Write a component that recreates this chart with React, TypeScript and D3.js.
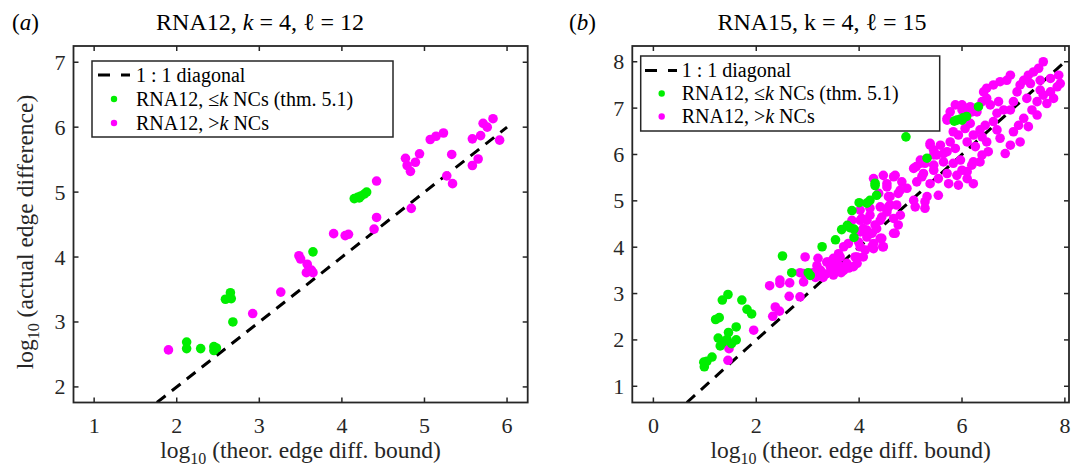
import React from "react";
import * as d3 from "d3";

// ---------- data ----------
const leftMagenta: [number, number][] = [
  [1.90, 2.57], [2.92, 3.13], [3.26, 3.46], [3.48, 4.02], [3.50, 3.97], [3.58, 3.89], [3.57, 3.76],
  [3.63, 3.80], [3.65, 3.76], [3.90, 4.36], [4.04, 4.33], [4.08, 4.35], [4.39, 4.43], [4.42, 4.61],
  [4.84, 4.75], [4.42, 5.17], [4.77, 5.52], [4.79, 5.41], [4.89, 5.46], [4.83, 5.32], [4.94, 5.59],
  [5.07, 5.81], [5.14, 5.86], [5.23, 5.91], [5.33, 5.58], [5.27, 5.25], [5.34, 5.13], [5.58, 5.82],
  [5.68, 5.87], [5.71, 6.06], [5.76, 6.00], [5.83, 6.13], [5.91, 5.80], [5.65, 5.51], [5.58, 5.41],
];
const leftGreen: [number, number][] = [
  [2.12, 2.69], [2.12, 2.59], [2.29, 2.59], [2.45, 2.62], [2.48, 2.60], [2.45, 2.56], [2.59, 3.35],
  [2.65, 3.45], [2.66, 3.36], [2.68, 3.00], [3.65, 4.08], [4.15, 4.90], [4.19, 4.92], [4.23, 4.94],
  [4.27, 4.97], [4.30, 5.00], [4.21, 4.91],
];
const rightGreen: [number, number][] = [
  [0.99, 1.42], [0.98, 1.52], [1.04, 1.54], [1.14, 1.63], [1.21, 2.44], [1.28, 2.48], [1.34, 2.86],
  [1.45, 2.98], [1.72, 2.86], [1.82, 2.66], [1.91, 2.56], [1.61, 2.28], [1.46, 2.16], [1.26, 2.04],
  [1.43, 2.01], [1.61, 2.00], [1.30, 1.87], [1.52, 1.92], [1.35, 1.95], [2.51, 3.81], [2.69, 3.45],
  [3.01, 3.45], [3.05, 3.39], [3.28, 4.01], [3.54, 4.16], [3.66, 4.38], [3.77, 4.47], [3.82, 4.42],
  [3.90, 4.39], [3.90, 4.21], [3.86, 4.79], [4.00, 4.96], [4.15, 4.95], [4.21, 5.01], [4.34, 5.12],
  [4.31, 5.33], [4.31, 5.38], [4.91, 6.38], [5.32, 5.92], [5.85, 6.72], [5.90, 6.74], [5.96, 6.76],
  [6.02, 6.79], [6.09, 6.82], [6.00, 6.74], [6.32, 7.03],
];
const rightMagenta: [number, number][] = [
  [1.45, 1.56], [1.47, 1.81], [1.95, 2.21], [2.32, 2.51], [2.37, 2.71], [2.45, 2.62], [2.26, 3.17],
  [2.46, 3.22], [2.65, 3.23], [2.64, 2.94], [2.85, 2.93], [2.92, 3.25], [2.85, 3.45], [2.92, 3.43],
  [2.95, 3.79], [3.20, 3.76], [3.18, 3.60], [3.24, 3.40], [3.37, 3.68], [3.44, 3.58], [3.57, 3.72],
  [3.63, 3.58], [3.70, 3.50], [3.60, 3.86], [3.70, 4.01], [3.79, 4.08], [3.89, 3.58], [3.92, 3.79],
  [4.08, 3.79], [4.02, 4.01], [4.15, 4.22], [4.28, 4.08], [4.25, 4.30], [4.28, 3.97], [4.44, 4.19],
  [4.47, 4.01], [4.67, 4.30], [4.76, 4.48], [4.80, 4.69], [4.67, 4.62], [4.54, 4.76], [4.41, 4.58],
  [4.34, 4.40], [4.15, 4.58], [4.08, 4.40], [4.21, 4.84], [4.41, 4.87], [4.60, 4.91], [5.09, 4.87],
  [5.28, 4.98], [4.02, 4.80], [4.05, 4.62], [3.40, 3.68], [3.96, 3.79], [4.25, 4.01], [4.46, 4.01],
  [4.41, 4.19], [4.70, 4.30], [4.31, 4.48], [4.21, 4.69], [4.02, 4.58], [4.44, 4.65], [4.57, 4.87],
  [4.73, 4.91], [4.57, 5.09], [4.76, 5.16], [5.28, 4.84], [5.32, 5.09], [5.54, 5.12], [5.06, 5.01],
  [4.93, 5.27], [4.83, 5.41], [4.47, 5.55], [4.70, 5.55], [4.28, 5.48], [4.54, 5.37], [5.06, 5.70],
  [5.22, 5.52], [5.12, 5.41], [5.38, 5.37], [5.45, 5.66], [5.54, 5.48], [5.74, 5.37], [5.93, 5.34],
  [5.71, 5.59], [5.90, 5.55], [6.10, 5.63], [6.22, 5.84], [5.97, 5.88], [6.22, 5.37], [5.83, 5.81],
  [5.64, 6.02], [5.45, 5.99], [5.28, 5.81], [5.11, 5.74], [3.86, 4.58], [4.02, 4.33], [4.15, 4.37],
  [3.99, 4.11], [4.12, 3.94], [3.63, 3.79], [3.76, 3.65], [3.96, 3.65], [3.50, 3.58], [3.50, 3.76],
  [2.46, 3.29], [4.67, 5.52], [4.54, 5.30], [4.80, 5.23], [4.38, 5.16], [4.60, 5.09], [5.19, 5.88],
  [5.38, 6.24], [5.45, 6.09], [3.10, 3.45], [3.25, 3.50], [3.35, 3.42], [3.45, 3.47], [3.55, 3.52],
  [3.65, 3.45], [3.80, 3.55], [3.30, 3.35], [3.50, 3.40], [3.15, 3.35],
  [7.46, 6.85], [7.58, 8.00], [7.49, 7.86], [7.39, 7.78], [7.29, 7.71], [7.20, 7.60], [7.13, 7.50],
  [7.33, 7.53], [7.52, 7.60], [7.72, 7.64], [7.88, 7.71], [7.85, 7.46], [7.72, 7.35], [7.52, 7.39],
  [7.46, 7.14], [7.26, 7.21], [7.07, 7.35], [7.00, 7.14], [6.94, 6.96], [6.87, 7.60], [6.74, 7.57],
  [6.61, 7.50], [6.48, 7.43], [6.94, 7.71], [6.42, 7.35], [6.48, 7.21], [6.55, 7.07], [6.71, 7.14],
  [6.81, 6.96], [6.68, 6.89], [6.61, 6.71], [6.45, 6.63], [6.35, 6.53], [6.16, 6.67], [6.19, 6.92],
  [6.00, 6.96], [6.06, 6.56], [6.22, 6.42], [6.48, 6.27], [6.68, 6.53], [6.51, 6.06], [6.39, 5.99],
  [6.26, 6.17], [6.10, 6.27], [5.93, 6.42], [5.83, 6.49], [5.71, 6.78], [5.77, 6.27], [5.87, 6.13],
  [5.71, 6.06], [5.58, 6.20], [5.38, 6.20], [5.51, 5.99], [5.64, 5.84], [5.45, 5.77], [5.19, 5.81],
  [5.25, 5.59], [6.00, 5.66], [6.10, 5.48], [6.19, 5.77], [6.35, 5.84], [6.39, 6.38], [6.74, 6.35],
  [6.94, 6.20], [6.84, 6.02], [7.13, 6.27], [7.10, 6.63], [7.00, 6.49], [7.20, 6.78], [7.29, 6.60],
  [7.36, 6.96], [7.58, 7.28], [7.65, 7.10], [7.78, 7.21], [7.91, 7.53], [5.77, 6.92], [5.87, 7.07],
  [6.00, 7.07], [6.16, 7.03], [6.39, 7.14], [6.29, 6.92], [5.71, 6.74], [6.10, 6.99],
];
const leftXTicks = [1, 2, 3, 4, 5, 6];
const leftYTicks = [2, 3, 4, 5, 6, 7];
const rightXTicks = [0, 2, 4, 6, 8];
const rightYTicks = [1, 2, 3, 4, 5, 6, 7, 8];
const leftDiag: [number, number] = [1.76, 6];
const rightDiag: [number, number] = [0.65, 8];

const GREEN = "#00ee00";
const MAGENTA = "#ff00ff";
const AX = "#262626";
const FONT = "'Liberation Serif', 'DejaVu Serif', serif";

type PanelProps = {
  x0: number; x1: number; y0: number; y1: number;
  xDom: [number, number]; yDom: [number, number];
  xTicks: number[]; yTicks: number[];
  magenta: [number, number][]; green: [number, number][];
  diag: [number, number];
  legend: { x: number; y: number; w: number; h: number; rows: number[]; dash0: number; dot: number; text: number };
  id: string;
};

function Panel(p: PanelProps) {
  const xs = d3.scaleLinear().domain(p.xDom).range([p.x0, p.x1]);
  const ys = d3.scaleLinear().domain(p.yDom).range([p.y1, p.y0]);
  const tl = 5;
  const L = p.legend;
  return (
    <g>
      <defs>
        <clipPath id={p.id}>
          <rect x={p.x0} y={p.y0} width={p.x1 - p.x0} height={p.y1 - p.y0} />
        </clipPath>
      </defs>
      <g clipPath={`url(#${p.id})`}>
        <line x1={xs(p.diag[0])} y1={ys(p.diag[0])} x2={xs(p.diag[1])} y2={ys(p.diag[1])}
          stroke="#000" strokeWidth={3} strokeDasharray="11,8" />
        {p.magenta.map((d, i) => (
          <circle key={"m" + i} cx={xs(d[0])} cy={ys(d[1])} r={4.8} fill={MAGENTA} />
        ))}
        {p.green.map((d, i) => (
          <circle key={"g" + i} cx={xs(d[0])} cy={ys(d[1])} r={4.8} fill={GREEN} />
        ))}
      </g>
      <rect x={p.x0} y={p.y0} width={p.x1 - p.x0} height={p.y1 - p.y0} fill="none" stroke={AX} strokeWidth={1.8} />
      {p.xTicks.map((t) => (
        <g key={"xt" + t}>
          <line x1={xs(t)} x2={xs(t)} y1={p.y1} y2={p.y1 - tl} stroke={AX} strokeWidth={1.5} />
          <line x1={xs(t)} x2={xs(t)} y1={p.y0} y2={p.y0 + tl} stroke={AX} strokeWidth={1.5} />
          <text x={xs(t)} y={p.y1 + 30} textAnchor="middle" fontSize={22} fill={AX} fontFamily={FONT}>{t}</text>
        </g>
      ))}
      {p.yTicks.map((t) => (
        <g key={"yt" + t}>
          <line x1={p.x0} x2={p.x0 + tl} y1={ys(t)} y2={ys(t)} stroke={AX} strokeWidth={1.5} />
          <line x1={p.x1} x2={p.x1 - tl} y1={ys(t)} y2={ys(t)} stroke={AX} strokeWidth={1.5} />
          <text x={p.x0 - 8} y={ys(t) + 7.5} textAnchor="end" fontSize={22} fill={AX} fontFamily={FONT}>{t}</text>
        </g>
      ))}
      <text x={(p.x0 + p.x1) / 2} y={458} textAnchor="middle" fontSize={23.5} fill={AX} fontFamily={FONT}>
        log<tspan fontSize={16} dy={6}>10</tspan><tspan dy={-6}> (theor. edge diff. bound)</tspan>
      </text>
      <rect x={L.x} y={L.y} width={L.w} height={L.h} fill="#fff" stroke={AX} strokeWidth={1.5} />
      <line x1={L.dash0} x2={L.dash0 + 32} y1={L.rows[0]} y2={L.rows[0]} stroke="#000" strokeWidth={3} strokeDasharray="12,11" />
      <text x={L.text} y={L.rows[0] + 6.5} fontSize={20} fill="#000" fontFamily={FONT}>1 : 1 diagonal</text>
      <circle cx={L.dot} cy={L.rows[1]} r={3.2} fill={GREEN} />
      <text x={L.text} y={L.rows[1] + 6.5} fontSize={20} fill="#000" fontFamily={FONT}>
        RNA12, ≤<tspan fontStyle="italic">k</tspan> NCs (thm. 5.1)
      </text>
      <circle cx={L.dot} cy={L.rows[2]} r={3.2} fill={MAGENTA} />
      <text x={L.text} y={L.rows[2] + 6.5} fontSize={20} fill="#000" fontFamily={FONT}>
        RNA12, &gt;<tspan fontStyle="italic">k</tspan> NCs
      </text>
    </g>
  );
}

export default function App() {
  return (
    <svg width={1075} height={470} style={{ position: "absolute", left: 0, top: 0, background: "#fff" }}>
      <rect width={1075} height={470} fill="#fff" />
      <text x={12} y={30} fontSize={23} fontFamily={FONT} fill="#000">(<tspan fontStyle="italic">a</tspan>)</text>
      <text x={260} y={30} textAnchor="middle" fontSize={24} fontFamily={FONT} fill="#000">
        RNA12, <tspan fontStyle="italic">k</tspan> = 4,  ℓ = 12
      </text>
      <text x={569} y={30} fontSize={23} fontFamily={FONT} fill="#000">(<tspan fontStyle="italic">b</tspan>)</text>
      <text x={822} y={30} textAnchor="middle" fontSize={24} fontFamily={FONT} fill="#000">
        RNA15, k = 4,  ℓ = 15
      </text>
      <text transform="translate(33,232) rotate(-90)" textAnchor="middle" fontSize={23.5} fill={AX} fontFamily={FONT}>
        log<tspan fontSize={16} dy={6}>10</tspan><tspan dy={-6}> (actual edge difference)</tspan>
      </text>
      <Panel id="clipA" x0={73.5} x1={527.7} y0={46} y1={402.5} xDom={[0.75, 6.25]} yDom={[1.76, 7.25]}
        xTicks={leftXTicks} yTicks={leftYTicks} magenta={leftMagenta} green={leftGreen} diag={leftDiag}
        legend={{ x: 92, y: 61, w: 301, h: 76, rows: [75, 99, 123], dash0: 98, dot: 114, text: 136 }} />
      <Panel id="clipB" x0={632.3} x1={1069} y0={46} y1={402.5} xDom={[-0.41, 8.08]} yDom={[0.65, 8.34]}
        xTicks={rightXTicks} yTicks={rightYTicks} magenta={rightMagenta} green={rightGreen} diag={rightDiag}
        legend={{ x: 640.7, y: 56, w: 299, h: 75, rows: [70.5, 93.5, 116.5], dash0: 645, dot: 661.7, text: 681.7 }} />
    </svg>
  );
}
